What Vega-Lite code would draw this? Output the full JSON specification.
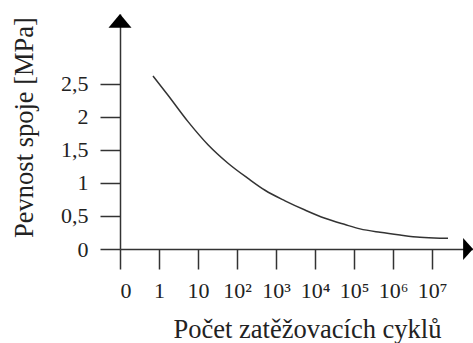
{
  "$schema": "https://vega.github.io/schema/vega-lite/v6.json",
  "width": 353,
  "height": 235,
  "autosize": "none",
  "padding": {"left": 120, "top": 14, "right": 0, "bottom": 94},
  "background": "white",
  "config": {
    "view": {"stroke": null},
    "font": "Liberation Serif",
    "axis": {
      "grid": false,
      "domainColor": "#333",
      "domainWidth": 1.5,
      "tickColor": "#333",
      "tickWidth": 1.5,
      "tickSize": 20,
      "labelFont": "Liberation Serif",
      "labelFontSize": 22,
      "labelColor": "#222",
      "titleFont": "Liberation Serif",
      "titleFontSize": 26.5,
      "titleFontWeight": "normal",
      "titleColor": "#222"
    }
  },
  "layer": [
    {
      "data": {"values": [
        {"p": 0.846, "v": 2.62},
        {"p": 1.231, "v": 2.33},
        {"p": 1.744, "v": 1.93},
        {"p": 2.256, "v": 1.58},
        {"p": 2.769, "v": 1.30},
        {"p": 3.282, "v": 1.07},
        {"p": 3.718, "v": 0.89},
        {"p": 4.231, "v": 0.73},
        {"p": 4.744, "v": 0.59},
        {"p": 5.256, "v": 0.465},
        {"p": 5.769, "v": 0.37},
        {"p": 6.154, "v": 0.305},
        {"p": 6.667, "v": 0.253},
        {"p": 7.18, "v": 0.212},
        {"p": 7.69, "v": 0.178},
        {"p": 8.205, "v": 0.164},
        {"p": 8.41, "v": 0.162}
      ]},
      "mark": {"type": "line", "color": "#333", "strokeWidth": 1.5, "interpolate": "monotone"},
      "encoding": {
        "x": {
          "field": "p", "type": "quantitative",
          "scale": {"domain": [0, 9.05], "nice": false, "zero": false},
          "axis": {
            "values": [0, 1, 2, 3, 4, 5, 6, 7, 8],
            "labelExpr": "['0','1','10','10²','10³','10⁴','10⁵','10⁶','10⁷'][datum.value]",
            "labelPadding": 11,
            "labelBaseline": "top",
            "title": "Počet zatěžovacích cyklů",
            "titleX": 187,
            "titleY": 88,
            "titleAlign": "center",
            "titleBaseline": "alphabetic",
            "titleAnchor": null
          }
        },
        "y": {
          "field": "v", "type": "quantitative",
          "scale": {"domain": [0, 3.5606], "nice": false, "zero": false},
          "axis": {
            "values": [0, 0.5, 1, 1.5, 2, 2.5],
            "labelExpr": "replace('' + datum.value, '.', ',')",
            "labelPadding": 12,
            "title": "Pevnost spoje [MPa]",
            "titleX": -88,
            "titleY": 113,
            "titleAngle": -90,
            "titleAlign": "center",
            "titleBaseline": "alphabetic",
            "titleAnchor": null
          }
        }
      }
    },
    {
      "data": {"values": [{"p": 0, "v": 3.5606}]},
      "mark": {"type": "point", "shape": "M0,0L-1,1.2L1,1.2Z", "size": 529, "filled": true, "color": "#000", "opacity": 1},
      "encoding": {
        "x": {"field": "p", "type": "quantitative"},
        "y": {"field": "v", "type": "quantitative"}
      }
    },
    {
      "data": {"values": [{"p": 9.05, "v": 0}]},
      "mark": {"type": "point", "shape": "M0,0L-0.9,-1L-0.9,1Z", "size": 484, "filled": true, "color": "#000", "opacity": 1},
      "encoding": {
        "x": {"field": "p", "type": "quantitative"},
        "y": {"field": "v", "type": "quantitative"}
      }
    }
  ]
}
